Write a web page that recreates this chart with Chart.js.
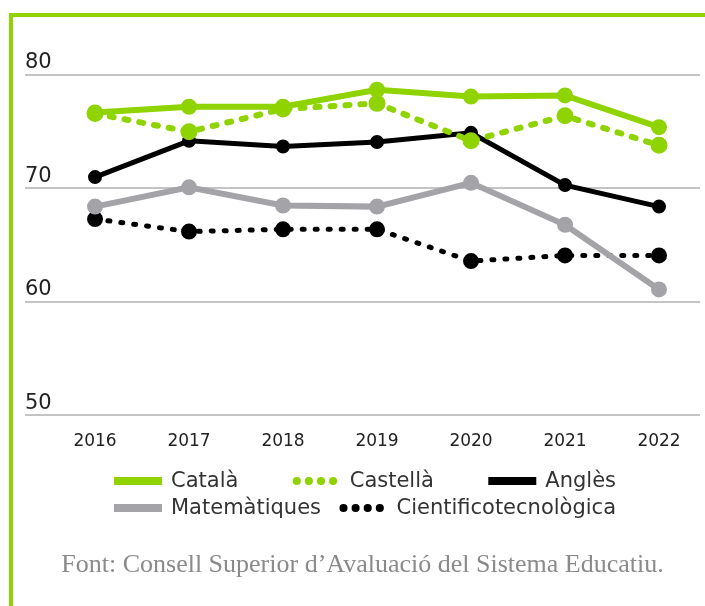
<!DOCTYPE html>
<html>
<head>
<meta charset="utf-8">
<script src="https://cdn.jsdelivr.net/npm/chart.js@4"></script>
<style>
  body { margin: 0; background: #fff; overflow: hidden; }
  .frame { position: absolute; left: 9px; top: 13px; width: 720px; height: 620px;
           border-left: 4px solid #8fd400; border-top: 4px solid #8fd400; }
  #lineChart { position: absolute; left: 0; top: 0; }
</style>
</head>
<body>
<div class="frame"></div>
<canvas id="lineChart" width="705" height="606"></canvas>
<script>
const years = [2016, 2017, 2018, 2019, 2020, 2021, 2022];
const catala = [76.7, 77.2, 77.2, 78.7, 78.1, 78.2, 75.4];
const castella = [76.6, 75.0, 77.0, 77.5, 74.2, 76.4, 73.8];
const angles = [71.0, 74.2, 73.7, 74.1, 74.9, 70.3, 68.4];
const matematiques = [68.4, 70.1, 68.5, 68.4, 70.5, 66.8, 61.1];
const cientifico = [67.3, 66.2, 66.4, 66.4, 63.6, 64.1, 64.1];
const yTicks = [50, 60, 70, 80];
const source = 'Font: Consell Superior d\u2019Avaluaci\u00f3 del Sistema Educatiu.';

const green = '#8fd400';
const grey = '#a4a4a8';

const toPoints = vals => years.map((x, i) => ({ x: x, y: vals[i] }));

// legend drawn in two rows like the original (3 items, then 2)
const legendRows = [[0, 1, 2], [3, 4]];
const twoRowLegend = {
    id: 'twoRowLegend',
    afterDraw(chart) {
        const ctx = chart.ctx;
        const left = 114, right = 616, sample = 48, gap = 9;
        ctx.save();
        ctx.font = '21px "DejaVu Sans"';
        ctx.textBaseline = 'middle';
        legendRows.forEach((row, r) => {
            const y = 481 + r * 27;
            const widths = row.map(i => sample + gap + ctx.measureText(chart.data.datasets[i].label).width);
            const space = (right - left - widths.reduce((a, b) => a + b, 0)) / (row.length - 1);
            let x = left;
            row.forEach((i, k) => {
                const ds = chart.data.datasets[i];
                const dotted = ds.borderDash.length > 0;
                ctx.strokeStyle = ds.borderColor;
                ctx.lineWidth = 8;
                ctx.lineCap = dotted ? 'round' : 'butt';
                ctx.setLineDash(dotted ? [0.1, 12] : []);
                ctx.beginPath();
                ctx.moveTo(x + (dotted ? 4 : 0), y);
                ctx.lineTo(x + sample - (dotted ? 2 : 0), y);
                ctx.stroke();
                ctx.setLineDash([]);
                ctx.fillStyle = '#333';
                ctx.fillText(ds.label, x + sample + gap, y + 1);
                x += widths[k] + space;
            });
        });
        ctx.restore();
    }
};

const ctx = document.getElementById('lineChart').getContext('2d');
const myChart = new Chart(ctx, {
    type: 'line',
    data: {
        datasets: [{
            label: 'Català',
            data: toPoints(catala),
            borderColor: green,
            backgroundColor: green,
            borderWidth: 6,
            borderDash: [],
            pointRadius: 5,
        }, {
            label: 'Castellà',
            data: toPoints(castella),
            borderColor: green,
            backgroundColor: green,
            borderWidth: 6,
            borderDash: [4, 11],
            borderCapStyle: 'round',
            pointRadius: 5.5,
        }, {
            label: 'Anglès',
            data: toPoints(angles),
            borderColor: '#000',
            backgroundColor: '#000',
            borderWidth: 5,
            borderDash: [],
            pointRadius: 4.5,
        }, {
            label: 'Matemàtiques',
            data: toPoints(matematiques),
            borderColor: grey,
            backgroundColor: grey,
            borderWidth: 6,
            borderDash: [],
            pointRadius: 5,
        }, {
            label: 'Cientificotecnològica',
            data: toPoints(cientifico),
            borderColor: '#000',
            backgroundColor: '#000',
            borderWidth: 5,
            borderDash: [2, 11],
            borderCapStyle: 'round',
            pointRadius: 5.5,
        }]
    },
    options: {
        responsive: false,
        animation: false,
        layout: { autoPadding: false, padding: { top: 75, left: 25, right: 5, bottom: 0 } },
        elements: { point: { borderWidth: 0 }, line: { tension: 0 } },
        scales: {
            x: {
                type: 'linear',
                min: 2015.255,
                max: 2022.436,
                afterBuildTicks: scale => { scale.ticks = years.map(v => ({ value: v })); },
                afterFit: scale => { scale.paddingLeft = 0; scale.paddingRight = 0; },
                grid: { display: false },
                border: { display: false },
                ticks: {
                    padding: 8,
                    color: '#222',
                    font: { family: 'DejaVu Sans', size: 17 },
                    callback: v => String(v)
                }
            },
            y: {
                min: 50,
                max: 80,
                afterBuildTicks: scale => { scale.ticks = yTicks.map(v => ({ value: v })); },
                grid: { color: '#c4c4c4', lineWidth: 2, drawTicks: false },
                border: { display: false },
                ticks: {
                    mirror: true,
                    padding: 0,
                    labelOffset: -12,
                    color: '#222',
                    font: { family: 'DejaVu Sans', size: 21 }
                }
            }
        },
        plugins: {
            legend: { display: false },
            tooltip: { enabled: false },
            title: {
                display: true,
                position: 'bottom',
                text: source,
                color: '#8a8a8a',
                font: { family: 'Liberation Serif', size: 26, weight: 'normal' },
                padding: { top: 90, bottom: 25 }
            }
        }
    },
    plugins: [twoRowLegend]
});
</script>
</body>
</html>
